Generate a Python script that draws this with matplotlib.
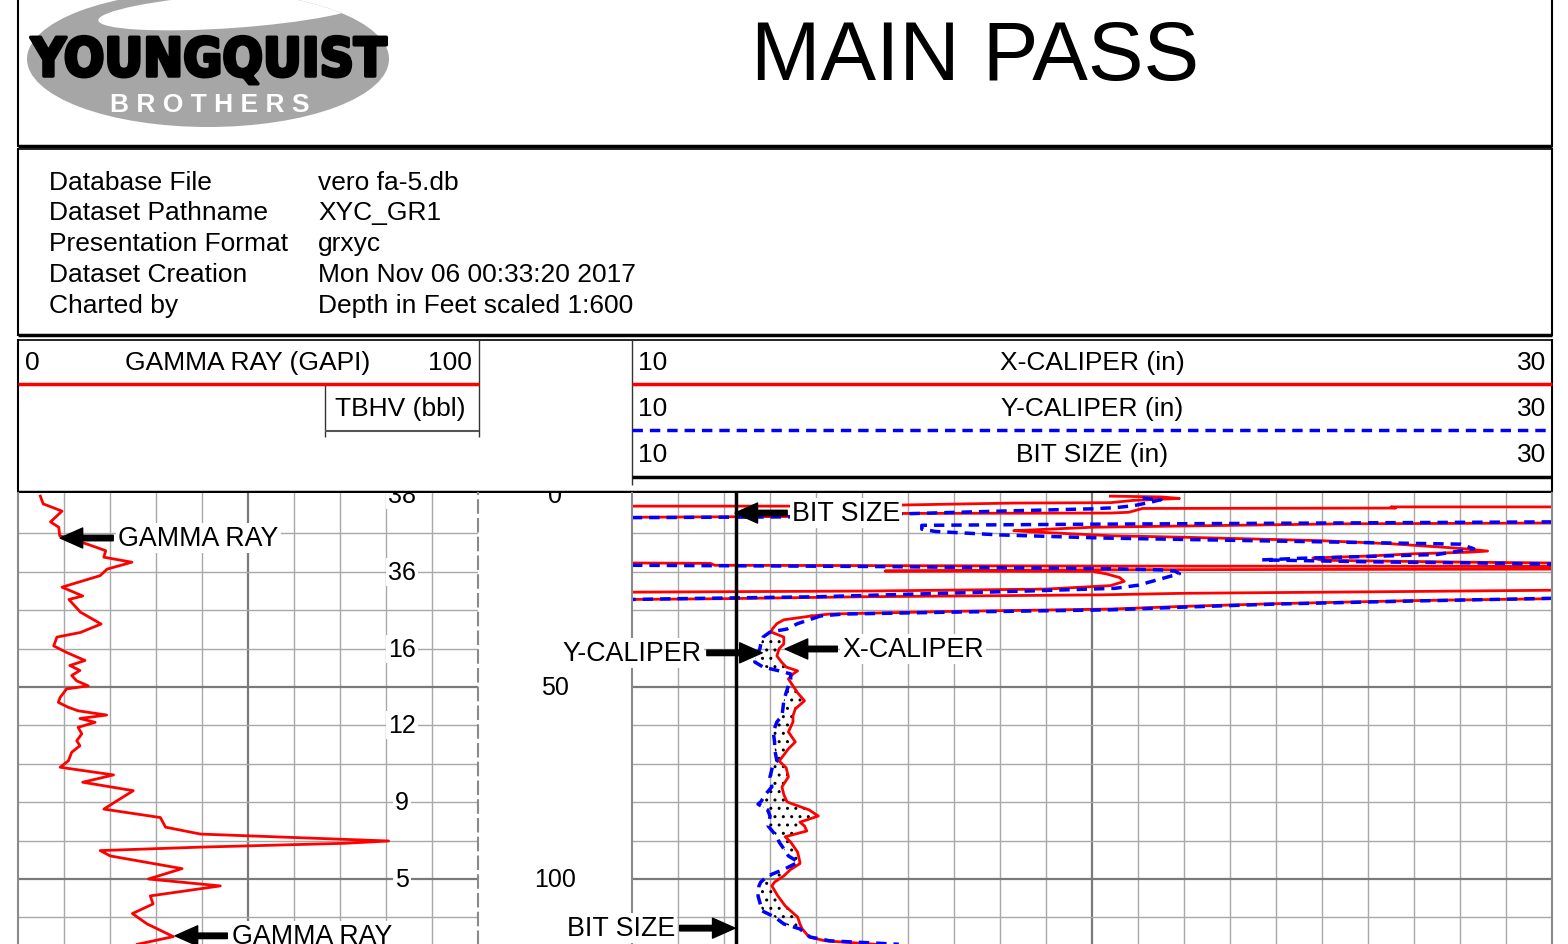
import numpy as np
import matplotlib
matplotlib.use('Agg')
import matplotlib.pyplot as plt
from matplotlib.patches import Ellipse
from matplotlib import font_manager
import matplotlib.patheffects as pe

# ---------------- data ----------------
info_labels = ["Database File", "Dataset Pathname", "Presentation Format", "Dataset Creation", "Charted by"]
info_values = ["vero fa-5.db", "XYC_GR1", "grxyc", "Mon Nov 06 00:33:20 2017", "Depth in Feet scaled 1:600"]

gr_depth = [0.3, 2.3, 4.2, 7.0, 8.4, 10.6, 12.8, 14.5, 16.2, 17.5, 19.3, 21.0, 24.0, 26.3, 27.2,
            30.5, 33.6, 35.8, 37.0, 39.3, 41.0, 43.1, 44.4, 45.7, 47.0, 48.4, 49.7, 50.5, 52.7,
            54.0, 55.3, 56.2, 57.3, 58.2, 59.2, 60.5, 62.2, 64.0, 65.3, 67.0, 69.2, 70.9,
            72.9, 74.8, 77.0, 79.6, 81.8, 84.0, 86.5, 88.3,
            90.1, 90.7, 91.7, 92.6, 94.0, 97.3, 100.0, 101.8, 104.4, 106.5, 109.0, 111.7, 115.0, 117.0]
gr_value = [4.8, 5.4, 9.5, 7.0, 8.8, 9.0, 15.0, 19.0, 18.6, 24.7, 19.3, 17.8, 9.5, 14.0, 11.0,
            13.5, 18.0, 13.5, 8.4, 7.7, 10.5, 14.5, 11.2, 13.4, 11.6, 12.7, 15.2, 10.5, 9.1,
            8.7, 10.9, 13.0, 19.2, 13.4, 16.7, 13.0, 13.8, 12.7, 13.4, 11.6, 10.9, 9.1,
            20.7, 14.0, 25.0, 21.5, 18.6, 30.9, 32.0, 39.6,
            80.5, 71.0, 39.6, 17.8, 20.0, 35.6, 28.3, 43.9, 28.7, 29.3, 24.8, 28.0, 33.7, 25.9]

tbhv_depth = [0, 20, 40, 60, 80, 100]
tbhv_value = ["38", "36", "16", "12", "9", "5"]
depth_ticks = [0, 50, 100]

# caliper readings in the upper (wrapping) section, NaN separates wraps
xcal_top_depth = [0.3, 0.5, 0.9, 1.4, 2.0, 2.1, 2.6, 2.9, 2.9, np.nan,
                  3.1, 3.1, 3.4, 3.5, 4.5, 4.7, 4.8, 5.6, 5.8, np.nan,
                  7.3, 7.5, 8.4, 9.3, 9.6, 10.6, 11.0, 11.9, 12.7, 13.9, 14.6, 14.9, 15.3, 15.9, 16.4, 17.0, 17.5, 17.7, np.nan,
                  17.7, 17.8, 18.3, 18.5, 18.6, np.nan,
                  19.3, 19.4, 19.5, 19.8, 19.9, 20.5, 21.5, 22.5, 23.6, 24.5, 25.0, 25.3, np.nan,
                  24.8, 25.2, 25.6, 26.0, 26.5, 27.0, 27.2, np.nan,
                  27.0, 27.5, 28.3, 29.0, 29.7, 30.3, 31.0, 31.5]
xcal_top_value = [20.4, 21.5, 21.9, 20.9, 20.4, 18.3, 15.9, 13.4, 10.0, np.nan,
                  30.0, 26.5, 26.6, 21.1, 20.8, 20.4, 15.9, 13.4, 10.0, np.nan,
                  30.0, 25.5, 20.0, 18.3, 18.7, 20.4, 22.0, 25.0, 26.5, 28.0, 28.6, 28.2, 27.0, 26.0, 24.8, 25.0, 28.2, 30.0, np.nan,
                  10.0, 11.7, 11.8, 20.0, 30.0, np.nan,
                  30.0, 24.0, 20.0, 15.5, 20.0, 20.3, 20.6, 20.7, 20.4, 19.0, 15.2, 10.0, np.nan,
                  30.0, 26.2, 22.0, 20.2, 15.0, 12.0, 10.0, np.nan,
                  30.0, 27.0, 24.0, 22.0, 20.4, 17.0, 14.3, 13.9]
ycal_top_depth = [0.8, 1.2, 1.8, 2.8, 3.3, 3.6, 4.2, 4.9, 5.7, 5.9, np.nan,
                  7.0, 7.3, 7.6, 7.9, 8.9, 9.5, 10.4, 11.2, 12.0, 12.8, 14.0, 15.5, 16.5, 16.9, 17.4, 17.7, 18.0, np.nan,
                  18.3, 18.6, 19.2, 19.5, 19.8, 20.5, 21.5, 22.5, 23.5, 24.3, 25.0, 26.5, 27.0, 27.2, np.nan,
                  26.9, 27.6, 28.4, 29.2, 29.9, 30.5, 31.0, 31.5]
ycal_top_value = [21.1, 21.5, 21.3, 20.9, 20.5, 20.0, 18.0, 15.9, 13.4, 10.0, np.nan,
                  30.0, 25.0, 20.0, 16.3, 16.3, 16.6, 18.0, 20.2, 24.0, 28.0, 28.3, 27.5, 24.5, 23.7, 26.0, 28.3, 30.0, np.nan,
                  10.0, 15.0, 20.4, 21.5, 21.8, 21.9, 21.6, 21.3, 21.0, 20.5, 18.6, 14.0, 11.0, 10.0, np.nan,
                  30.0, 27.0, 24.0, 22.0, 20.4, 17.0, 14.6, 14.1]

# caliper readings in the open hole section (common depth list)
cal_depth = [31.5, 32.5, 33.5, 34.9, 35.7, 37.0, 38.8, 40.0, 41.9, 43.5, 44.8, 45.8, 46.6, 47.9,
             49.7, 51.5, 53.6, 55.7, 57.5, 59.1, 61.7, 64.3, 66.1, 69.3, 71.0, 73.4, 76.0, 78.0,
             79.9, 80.5, 82.0, 83.6, 85.2, 86.2, 87.5, 89.0, 90.4, 93.0, 94.0, 95.6, 96.0, 97.5,
             99.2, 100.8, 101.8, 104.4, 107.0, 108.3, 109.9, 111.7, 113.0, 115.1, 116.1, 117.0]
xcal_main = [13.9, 13.3, 13.15, 13.05, 13.03, 13.3, 13.3, 13.2, 13.15, 13.25, 13.35, 13.6, 13.5, 13.4,
             13.5, 13.6, 13.75, 13.55, 13.5, 13.5, 13.4, 13.55, 13.4, 13.2, 13.35, 13.4, 13.26, 13.3,
             13.37, 13.5, 13.85, 14.05, 13.65, 13.75, 13.8, 13.33, 13.45, 13.6, 13.62, 13.65, 13.65, 13.45,
             13.3, 13.1, 13.04, 13.17, 13.33, 13.45, 13.6, 13.65, 13.7, 13.85, 14.2, 15.3]
ycal_main = [14.1, 13.85, 13.6, 13.37, 13.0, 12.85, 12.8, 12.78, 12.7, 12.67, 12.85, 13.2, 13.45, 13.45,
             13.4, 13.35, 13.3, 13.28, 13.26, 13.15, 13.07, 13.1, 13.1, 13.15, 13.05, 13.0, 13.04, 12.9,
             12.8, 12.74, 12.95, 13.0, 12.98, 12.96, 13.05, 13.15, 13.2, 13.35, 13.4, 13.62, 13.55, 13.3,
             12.95, 12.8, 12.76, 12.74, 12.8, 12.83, 13.1, 13.3, 13.65, 13.87, 14.3, 15.8]

bit_depth = [-5, 130]
bit_value = [12.25, 12.25]

# ---------------- layout ----------------
W, H, DPI = 1568, 945, 100
plt.rcParams['font.family'] = ['Liberation Sans', 'DejaVu Sans']
fig = plt.figure(figsize=(W / DPI, H / DPI), dpi=DPI)
bg = fig.add_axes([0, 0, 1, 1])
bg.set_xlim(0, W)
bg.set_ylim(H, 0)
bg.axis('off')
bg.set_zorder(0)

def ax_at(x0, y0, x1, y1):
    return fig.add_axes([x0 / W, 1 - y1 / H, (x1 - x0) / W, (y1 - y0) / H])

def hl(y, x0, x1, **kw):
    bg.plot([x0, x1], [y, y], solid_capstyle='butt', **kw)

def vl(x, y0, y1, **kw):
    bg.plot([x, x], [y0, y1], solid_capstyle='butt', **kw)

K = 'black'
# header box
vl(18, -2, 148, color=K, lw=1.5)
vl(1552, -2, 148, color=K, lw=1.5)
hl(147, 18, 1552, color=K, lw=2.5)
# info box
vl(18, 149, 337, color=K, lw=1.5)
vl(1552, 149, 337, color=K, lw=1.5)
hl(150, 18, 1552, color=K, lw=1.2)
hl(336, 18, 1552, color=K, lw=2.5)
# track header box
vl(18, 340, 494, color=K, lw=1.5)
vl(1552, 340, 494, color=K, lw=1.5)
hl(341, 18, 1552, color=K, lw=1.2)
hl(493, 18, 1552, color=K, lw=2.5)
vl(479, 341, 438, color='#333333', lw=1.0)
vl(632, 341, 486, color='#333333', lw=1.0)
vl(325, 385, 438, color='#333333', lw=1.0)
hl(385, 18, 479, color='#ff0000', lw=2.5)
hl(385, 632, 1552, color='#ff0000', lw=2.5)
hl(432, 325, 479, color='#555555', lw=1.5)
bg.plot([632, 1552], [431, 431], color='#0000ff', lw=2.5, dashes=(3, 2))
hl(478, 632, 1552, color=K, lw=2.5)

fs_h = 19
bg.text(25, 363, "0", fontsize=fs_h, ha='left', va='center')
bg.text(248, 363, "GAMMA RAY (GAPI)", fontsize=fs_h, ha='center', va='center')
bg.text(472, 363, "100", fontsize=fs_h, ha='right', va='center')
bg.text(400, 409, "TBHV (bbl)", fontsize=fs_h, ha='center', va='center')
for yy, name in [(363, "X-CALIPER (in)"), (409, "Y-CALIPER (in)"), (455, "BIT SIZE (in)")]:
    bg.text(638, yy, "10", fontsize=fs_h, ha='left', va='center')
    bg.text(1092, yy, name, fontsize=fs_h, ha='center', va='center')
    bg.text(1546, yy, "30", fontsize=fs_h, ha='right', va='center')

# info rows
for i, (lab, val) in enumerate(zip(info_labels, info_values)):
    yy = 182.5 + i * 30.8
    bg.text(49, yy, lab, fontsize=19, ha='left', va='center')
    bg.text(318, yy, val, fontsize=19, ha='left', va='center')

# title
bg.text(975, 58, "MAIN PASS", fontsize=60, ha='center', va='center')

# logo
logo = Ellipse((208, 60), 362, 136, facecolor='#a6a6a6', edgecolor='none')
bg.add_patch(logo)
sw = Ellipse((232, 12), 268, 34, angle=-4, facecolor='white', edgecolor='none')
bg.add_patch(sw)
sw.set_clip_path(logo)
names = {f.name for f in font_manager.fontManager.ttflist}
logo_fam = 'Liberation Sans Narrow' if 'Liberation Sans Narrow' in names else 'DejaVu Sans'
t = bg.text(209, 62, "YOUNGQUIST", fontsize=50, fontweight='heavy', fontstretch='condensed',
            family=logo_fam, ha='center', va='center', color='black',
            path_effects=[pe.withStroke(linewidth=2.5, foreground='black')])
fig.canvas.draw()
bb = t.get_window_extent(fig.canvas.get_renderer())
t.set_fontsize(50 * 356.0 / bb.width)
bg.text(210, 105, "B R O T H E R S", fontsize=19, fontweight='bold', ha='center', va='center', color='white')

# ---------------- data tracks ----------------
Y_TOP, Y_BOT = 494, 945
D0_Y, PX_FT = 496.0, 3.84
d_top = (Y_TOP - D0_Y) / PX_FT
d_bot = (Y_BOT - D0_Y) / PX_FT

GRID = '#a8a8a8'
GRID_MAJ = '#7a7a7a'

dax = ax_at(478.3, Y_TOP, 632, Y_BOT)
dax.set_xlim(0, 1)
dax.set_ylim(d_bot, d_top)
dax.set_zorder(1)

gax = ax_at(18.3, Y_TOP, 478.3, Y_BOT)
gax.set_xlim(0, 100)
gax.set_ylim(d_bot, d_top)
gax.set_zorder(2)
for v in range(10, 100, 10):
    gax.axvline(v, color=GRID_MAJ if v == 50 else GRID, lw=1.6 if v == 50 else 1.0, zorder=0.5)
for d in range(10, 120, 10):
    gax.axhline(d, color=GRID_MAJ if d % 50 == 0 else GRID, lw=1.6 if d % 50 == 0 else 1.0, zorder=0.5)

cax = ax_at(632, Y_TOP, 1552, Y_BOT)
cax.set_xlim(10, 30)
cax.set_ylim(d_bot, d_top)
cax.set_zorder(3)
for v in range(11, 30):
    cax.axvline(v, color=GRID_MAJ if v == 20 else GRID, lw=1.6 if v == 20 else 1.0, zorder=0.5)
for d in range(10, 120, 10):
    cax.axhline(d, color=GRID_MAJ if d % 50 == 0 else GRID, lw=1.6 if d % 50 == 0 else 1.0, zorder=0.5)

for a in (gax, cax, dax):
    a.set_xticks([])
    a.set_yticks([])
    for s in a.spines.values():
        s.set_visible(False)
for a in (gax, cax):
    a.spines['left'].set_visible(True)
    a.spines['left'].set_color('#8a8a8a')
    a.spines['left'].set_linewidth(1.5)
gax.spines['right'].set_visible(True)
gax.spines['right'].set_color('#8a8a8a')
gax.spines['right'].set_linestyle((0, (6, 3)))
gax.spines['right'].set_linewidth(1.5)
cax.spines['right'].set_visible(True)
cax.spines['right'].set_color('#8a8a8a')
cax.spines['right'].set_linewidth(1.5)

# gamma ray
gax.plot(gr_value, gr_depth, color='#ff0000', lw=2.0, zorder=2)
box = dict(facecolor='white', edgecolor='none', pad=1.5)
for d, s in zip(tbhv_depth, tbhv_value):
    gax.text(83.4, d, s, fontsize=18, ha='center', va='center', bbox=box, clip_on=True, zorder=4)
for d in depth_ticks:
    dax.text(0.5, d, str(d), fontsize=18, ha='center', va='center', clip_on=True)

arrow = dict(arrowstyle='simple,head_length=0.9,head_width=0.8,tail_width=0.22',
             mutation_scale=18, color='black', shrinkA=2, shrinkB=0)
fs_a = 19.3
gax.annotate("GAMMA RAY", xy=(9.1, 11.2), xytext=(21.7, 11.2), fontsize=fs_a, ha='left', va='center',
             bbox=box, arrowprops=arrow, zorder=6)
gax.annotate("GAMMA RAY", xy=(34.1, 114.8), xytext=(46.5, 114.8), fontsize=fs_a, ha='left', va='center',
             bbox=box, arrowprops=arrow, zorder=6, annotation_clip=False)

# calipers
cal_d = np.array(cal_depth)
xm = np.array(xcal_main)
ym = np.array(ycal_main)
cax.fill_betweenx(cal_d, ym, xm, where=ym < xm, interpolate=True, facecolor='none',
                  edgecolor='black', hatch='..', linewidth=0, zorder=1)
cax.plot(xcal_top_value, xcal_top_depth, color='#ff0000', lw=2.0, zorder=2)
cax.plot(ycal_top_value, ycal_top_depth, color='#0000ff', lw=2.5, dashes=(3, 2), zorder=2.1)
cax.plot(xcal_main, cal_depth, color='#ff0000', lw=2.0, zorder=2)
cax.plot(ycal_main, cal_depth, color='#0000ff', lw=2.5, dashes=(3, 2), zorder=2.1)
cax.plot(bit_value, bit_depth, color='black', lw=2.5, zorder=3)

cax.annotate("BIT SIZE", xy=(12.24, 4.7), xytext=(13.48, 4.7), fontsize=fs_a, ha='left', va='center',
             bbox=box, arrowprops=arrow, zorder=6)
cax.annotate("Y-CALIPER", xy=(12.83, 41.1), xytext=(11.52, 41.1), fontsize=fs_a, ha='right', va='center',
             bbox=box, arrowprops=arrow, zorder=6, annotation_clip=False)
cax.annotate("X-CALIPER", xy=(13.33, 40.1), xytext=(14.57, 40.1), fontsize=fs_a, ha='left', va='center',
             bbox=box, arrowprops=arrow, zorder=6)
cax.annotate("BIT SIZE", xy=(12.24, 112.8), xytext=(10.93, 112.8), fontsize=fs_a, ha='right', va='center',
             bbox=box, arrowprops=arrow, zorder=6, annotation_clip=False)

fig.savefig("out.png", dpi=DPI)
